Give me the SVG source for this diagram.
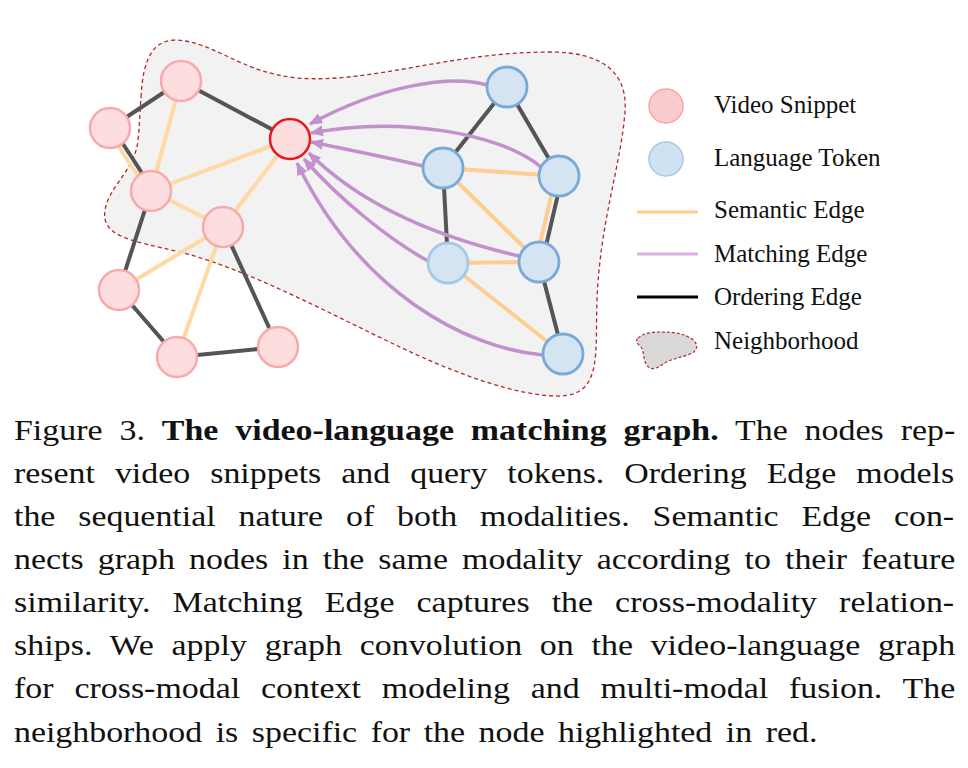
<svg xmlns="http://www.w3.org/2000/svg" width="968" height="768" viewBox="0 0 968 768">
  <style>
    .hood { fill: #f2f2f2; stroke: #b02a2a; stroke-width: 1.3; stroke-dasharray: 4 3; }
    .ord { stroke: #555555; stroke-width: 4; stroke-linecap: round; fill: none; }
    .sem { stroke: #ffd9a3; stroke-width: 4; stroke-linecap: round; fill: none; }
    .semb { stroke: #ffcd92; stroke-width: 4; stroke-linecap: round; fill: none; }
    .match { stroke: #c290cc; stroke-width: 3.5; fill: none; marker-end: url(#arrow); }
    .vid { fill: #fdddde; stroke: #f8a9ab; stroke-width: 2.5; }
    .hot { fill: #fdddde; stroke: #e8171d; stroke-width: 2.5; }
    .tok { fill: #d5e4f3; stroke: #78a9d7; stroke-width: 2.8; }
    .tok-light { fill: #d5e4f3; stroke: #a6c8e8; stroke-width: 2.8; }
    .leg { font-family: "Liberation Serif", "Times New Roman", serif; font-size: 25px; fill: #111; }
    .cap { font-family: "Liberation Serif", "Times New Roman", serif; font-size: 30px; fill: #111; }
  </style>
  <defs>
    <marker id="arrow" viewBox="0 0 13 11" refX="12" refY="5.5" markerWidth="13" markerHeight="11" markerUnits="userSpaceOnUse" orient="auto">
      <path d="M0,0 L13,5.5 L0,11 Z" fill="#c290cc"/>
    </marker>
  </defs>

  <rect width="968" height="768" fill="#ffffff"/>

  <!-- neighborhood of the highlighted node -->
  <path id="neighborhood" class="hood" d="M141,97 C143,60 152,40 176,40 C215,42 240,72 297,78 C370,84 450,52 550,52 C602,52 628,72 625,112 C621,165 600,222 597,300 C595,352 603,395 560,396 C518,397 452,372 400,347 C330,314 250,270 180,252 C128,240 101,236 105,210 C109,186 135,170 138,140 C140,120 140,108 141,97 Z"/>

  <g id="connectors">
    <!-- ordering edges, video -->
    <line class="ord" x1="110" y1="128" x2="181" y2="81"/>
    <line class="ord" x1="181" y1="81" x2="290" y2="139"/>
    <line class="sem" x1="108" y1="130" x2="149" y2="193"/>
    <line class="ord" x1="112" y1="127" x2="153" y2="190"/>
    <line class="ord" x1="151" y1="191" x2="119" y2="290"/>
    <line class="ord" x1="119" y1="290" x2="177" y2="357"/>
    <line class="ord" x1="177" y1="357" x2="278" y2="347"/>
    <line class="ord" x1="278" y1="347" x2="223" y2="227"/>
    <!-- semantic edges, video -->
    <line class="sem" x1="181" y1="81" x2="151" y2="191"/>
    <line class="sem" x1="151" y1="191" x2="290" y2="139"/>
    <line class="sem" x1="151" y1="191" x2="223" y2="227"/>
    <line class="sem" x1="223" y1="227" x2="290" y2="139"/>
    <line class="sem" x1="223" y1="227" x2="119" y2="290"/>
    <line class="sem" x1="223" y1="227" x2="177" y2="357"/>

    <!-- ordering edges, language -->
    <line class="ord" x1="507" y1="87" x2="443" y2="168"/>
    <line class="ord" x1="507" y1="87" x2="559" y2="176"/>
    <line class="ord" x1="443" y1="168" x2="448" y2="263"/>
    <line class="semb" x1="556" y1="175" x2="536" y2="261"/>
    <line class="ord" x1="562" y1="177" x2="542" y2="263"/>
    <line class="ord" x1="539" y1="262" x2="563" y2="354"/>
    <!-- semantic edges, language -->
    <line class="semb" x1="443" y1="168" x2="559" y2="176"/>
    <line class="semb" x1="443" y1="168" x2="539" y2="262"/>
    <line class="semb" x1="448" y1="263" x2="539" y2="262"/>
    <line class="semb" x1="448" y1="263" x2="563" y2="354"/>

    <!-- matching edges into the highlighted node -->
    <path class="match" d="M487,85 C450,74 380,86 310,124"/>
    <path class="match" d="M541,167 C500,133 400,116 311,133"/>
    <path class="match" d="M423,166 C390,158 350,150 311,142"/>
    <path class="match" d="M519,256 C450,240 368,212 309,153"/>
    <path class="match" d="M428,261 C390,240 340,200 304,159"/>
    <path class="match" d="M543,355 C465,348 360,292 297,163"/>
  </g>

  <!-- video snippets -->
  <g id="v1"><circle class="vid" cx="181" cy="81" r="20"/></g>
  <g id="v2"><circle class="vid" cx="110" cy="128" r="20"/></g>
  <g id="v3"><circle class="vid" cx="151" cy="191" r="20"/></g>
  <g id="v4"><circle class="vid" cx="223" cy="227" r="20"/></g>
  <g id="v5"><circle class="vid" cx="119" cy="290" r="20"/></g>
  <g id="v6"><circle class="vid" cx="177" cy="357" r="20"/></g>
  <g id="v7"><circle class="vid" cx="278" cy="347" r="20"/></g>
  <g id="v-hot"><circle class="hot" cx="290" cy="139" r="20"/></g>

  <!-- language tokens -->
  <g id="t1"><circle class="tok" cx="507" cy="87" r="20"/></g>
  <g id="t2"><circle class="tok" cx="443" cy="168" r="20"/></g>
  <g id="t3"><circle class="tok" cx="559" cy="176" r="20"/></g>
  <g id="t4"><circle class="tok-light" cx="448" cy="263" r="20"/></g>
  <g id="t5"><circle class="tok" cx="539" cy="262" r="20"/></g>
  <g id="t6"><circle class="tok" cx="563" cy="354" r="20"/></g>

  <!-- legend -->
  <g id="legend">
    <circle cx="666" cy="106" r="17" fill="#f9cbcc" stroke="#f3a7a9" stroke-width="1.5"/>
    <text class="leg" x="714" y="113">Video Snippet</text>
    <circle cx="666" cy="159" r="17" fill="#d0e1f2" stroke="#a9c8e7" stroke-width="1.5"/>
    <text class="leg" x="714" y="166">Language Token</text>
    <line x1="637" y1="212" x2="698" y2="212" stroke="#ffcc8a" stroke-width="3"/>
    <text class="leg" x="714" y="218">Semantic Edge</text>
    <line x1="637" y1="254" x2="698" y2="254" stroke="#d9b3e0" stroke-width="3"/>
    <text class="leg" x="714" y="262">Matching Edge</text>
    <line x1="637" y1="297" x2="698" y2="297" stroke="#000000" stroke-width="3"/>
    <text class="leg" x="714" y="305">Ordering Edge</text>
    <path d="M638,338 C645,332 655,332 662,332 C675,332 685,334 692,339 C699,344 698,351 690,354 C680,358 670,359 663,364 C657,369 650,371 646,364 C643,358 644,351 641,347 C637,343 635,341 638,338 Z" fill="#d9d9d9" stroke="#b02a2a" stroke-width="1.2" stroke-dasharray="3 2"/>
    <text class="leg" x="714" y="349">Neighborhood</text>
  </g>

  <!-- caption: justified lines, type set slightly wide -->
  <g id="caption" transform="translate(14,0) scale(1.13,1)">
    <text class="cap" x="0" y="440" word-spacing="7.4" textLength="833" lengthAdjust="spacing">Figure 3. <tspan font-weight="bold">The video-language matching graph.</tspan> The nodes rep-</text>
    <text class="cap" x="0" y="483" word-spacing="10.2" textLength="832" lengthAdjust="spacing">resent video snippets and query tokens. Ordering Edge models</text>
    <text class="cap" x="0" y="526" word-spacing="12.7" textLength="832" lengthAdjust="spacing">the sequential nature of both modalities. Semantic Edge con-</text>
    <text class="cap" x="0" y="569" word-spacing="5" textLength="833" lengthAdjust="spacing">nects graph nodes in the same modality according to their feature</text>
    <text class="cap" x="0" y="612" word-spacing="11.9" textLength="832" lengthAdjust="spacing">similarity. Matching Edge captures the cross-modality relation-</text>
    <text class="cap" x="0" y="655" word-spacing="8" textLength="833" lengthAdjust="spacing">ships. We apply graph convolution on the video-language graph</text>
    <text class="cap" x="0" y="698" word-spacing="10.9" textLength="833" lengthAdjust="spacing">for cross-modal context modeling and multi-modal fusion. The</text>
    <text class="cap" x="0" y="742" word-spacing="4.5" textLength="711" lengthAdjust="spacing">neighborhood is specific for the node highlighted in red.</text>
  </g>
</svg>
